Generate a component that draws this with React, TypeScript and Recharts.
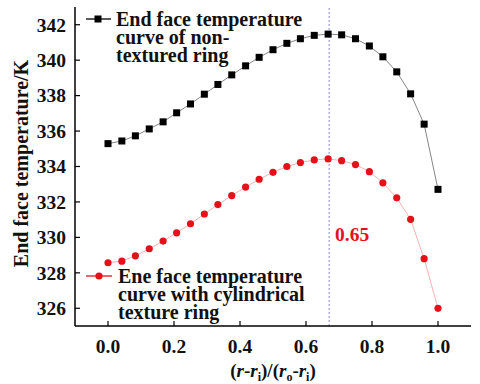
import React from 'react';
import { LineChart, Line, XAxis, YAxis, ReferenceLine, Customized } from 'recharts';

const xPositions = [0, 0.042, 0.083, 0.125, 0.167, 0.208, 0.25, 0.292, 0.333, 0.375, 0.417, 0.458, 0.5, 0.542, 0.583, 0.625, 0.667, 0.708, 0.75, 0.792, 0.833, 0.875, 0.917, 0.958, 1.0];
const nonTextured = [335.29, 335.44, 335.73, 336.12, 336.52, 337.03, 337.53, 338.08, 338.63, 339.17, 339.68, 340.16, 340.59, 340.95, 341.21, 341.4, 341.47, 341.43, 341.21, 340.8, 340.19, 339.34, 338.1, 336.39, 332.71];
const cylindrical = [328.57, 328.66, 328.96, 329.36, 329.79, 330.26, 330.77, 331.32, 331.85, 332.36, 332.84, 333.28, 333.67, 334.0, 334.22, 334.37, 334.43, 334.33, 334.11, 333.71, 333.08, 332.23, 331.02, 328.8, 326.0];
const xTicks = [0, 0.2, 0.4, 0.6, 0.8, 1.0];
const yTicks = [326, 328, 330, 332, 334, 336, 338, 340, 342];
const peakX = 0.67;
const peakLabel = '0.65';
const legendBlack = ['End face temperature', 'curve of non-', 'textured ring'];
const legendRed = ['Ene face temperature', 'curve with cylindrical', 'texture ring'];

const data = xPositions.map((x, i) => ({ x, a: nonTextured[i], b: cylindrical[i] }));

const RED = '#e5101a';
const FONT = 'Liberation Serif';
const txt = (size: number, color = '#111') => ({
  fontFamily: FONT,
  fontWeight: 700,
  fontSize: size,
  fill: color,
});

const YTick = (props: any) => {
  const { y, payload } = props;
  return (
    <g>
      <line x1={75} x2={80} y1={y} y2={y} stroke="#000" strokeWidth={1.2} />
      <text x={66} y={y} dy="0.35em" textAnchor="end" style={txt(19.5)}>
        {payload.value}
      </text>
    </g>
  );
};

const XTick = (props: any) => {
  const { x, payload } = props;
  return (
    <g>
      <line x1={x} x2={x} y1={326} y2={321} stroke="#000" strokeWidth={1.2} />
      <text x={x} y={353} textAnchor="middle" style={txt(19.5)}>
        {Number(payload.value).toFixed(1)}
      </text>
    </g>
  );
};

const SquareDot = (props: any) => {
  const { cx, cy, index } = props;
  return <rect key={`s${index}`} x={cx - 3.5} y={cy - 3.5} width={7} height={7} fill="#000" />;
};

const CircleDot = (props: any) => {
  const { cx, cy, index } = props;
  return <circle key={`c${index}`} cx={cx} cy={cy} r={3.6} fill={RED} />;
};

const Overlay = () => (
  <g style={{ fontFamily: FONT }}>
    <line x1={86} x2={111} y1={19} y2={19} stroke="#000" strokeWidth={1.3} />
    <rect x={94.5} y={15.5} width={7} height={7} fill="#000" />
    {legendBlack.map((t, i) => (
      <text key={t} x={116} y={26 + i * 18} style={txt(20)}>{t}</text>
    ))}
    <line x1={86} x2={112} y1={276} y2={276} stroke={RED} strokeWidth={1.3} />
    <circle cx={99} cy={276} r={3.6} fill={RED} />
    {legendRed.map((t, i) => (
      <text key={t} x={118} y={282.5 + i * 18} style={txt(20)}>{t}</text>
    ))}
    <text x={21} y={163.5} textAnchor="middle" dy="0.35em" transform="rotate(-90 21 163.5)" style={txt(20)}>
      End face temperature/K
    </text>
    <text x={273} y={377} textAnchor="middle" style={txt(19)}>
      <tspan>(</tspan>
      <tspan fontStyle="italic">r</tspan>
      <tspan>-</tspan>
      <tspan fontStyle="italic">r</tspan>
      <tspan fontSize={12} dy={4}>i</tspan>
      <tspan dy={-4}>)/(</tspan>
      <tspan fontStyle="italic">r</tspan>
      <tspan fontSize={12} dy={4}>o</tspan>
      <tspan dy={-4}>-</tspan>
      <tspan fontStyle="italic">r</tspan>
      <tspan fontSize={12} dy={4}>i</tspan>
      <tspan dy={-4}>)</tspan>
    </text>
  </g>
);

const PeakLabel = (props: any) => {
  const vb = props.viewBox || {};
  const x = vb.x ?? 0;
  const y = (vb.y ?? 0) + (vb.height ?? 0) * 0.712;
  return (
    <text x={x + 6} y={y} dy="0.35em" style={txt(19.5, RED)}>
      {peakLabel}
    </text>
  );
};

export default function App() {
  return (
    <div style={{ position: 'absolute', left: 0, top: 0, background: '#fff', fontFamily: FONT }}>
      <LineChart width={480} height={384} data={data} margin={{ top: 7, right: 9, bottom: 0, left: 0 }} style={{ fontFamily: FONT }}>
        <XAxis
          dataKey="x"
          type="number"
          domain={[-0.1, 1.1]}
          ticks={xTicks}
          allowDataOverflow
          height={58}
          tickLine={false}
          tick={<XTick />}
          axisLine={{ stroke: '#000', strokeWidth: 1.5 }}
        />
        <XAxis xAxisId="top" orientation="top" dataKey="x" type="number" domain={[-0.1, 1.1]} height={0} tick={false} tickLine={false} axisLine={{ stroke: '#000', strokeWidth: 1.5 }} />
        <YAxis
          type="number"
          domain={[325, 343]}
          ticks={yTicks}
          allowDataOverflow
          width={75}
          tickLine={false}
          tick={<YTick />}
          axisLine={{ stroke: '#000', strokeWidth: 1.5 }}
        />
        <YAxis yAxisId="right" orientation="right" domain={[325, 343]} width={0} tick={false} tickLine={false} axisLine={{ stroke: '#000', strokeWidth: 1.5 }} />
        <ReferenceLine x={peakX} stroke="#8a8ac8" strokeWidth={1} strokeDasharray="2 2" label={<PeakLabel />} />
        <Line dataKey="a" stroke="#666" strokeWidth={0.8} dot={<SquareDot />} isAnimationActive={false} />
        <Line dataKey="b" stroke="#f0a0a0" strokeWidth={0.8} dot={<CircleDot />} isAnimationActive={false} />
        <Customized component={<Overlay />} />
      </LineChart>
    </div>
  );
}
